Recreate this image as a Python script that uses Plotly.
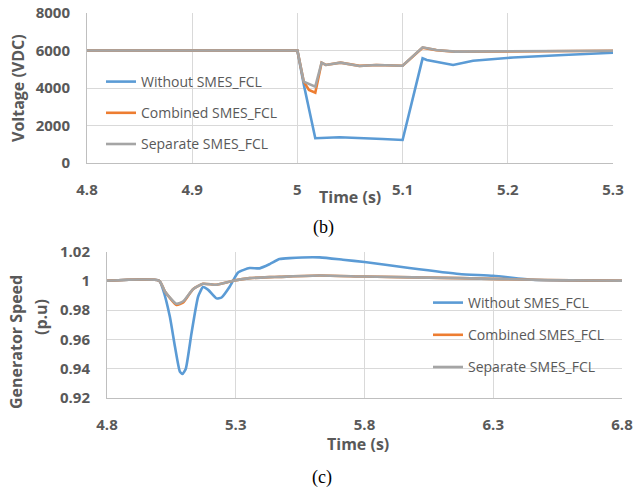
import plotly.graph_objects as go

# ---- (b) DC voltage ----
t_v_without = [4.8, 5.0, 5.006, 5.017, 5.04, 5.056, 5.081, 5.1, 5.119, 5.123, 5.132, 5.148, 5.167, 5.205, 5.253, 5.3]
v_without = [6000, 6000, 4200, 1320, 1370, 1350, 1280, 1230, 5580, 5490, 5400, 5230, 5450, 5630, 5760, 5880]

t_v_comb = [4.8, 5.0, 5.006, 5.011, 5.017, 5.023, 5.027, 5.041, 5.059, 5.075, 5.1, 5.119, 5.132, 5.15, 5.2, 5.25, 5.3]
v_comb = [6000, 6000, 4340, 3890, 3750, 5350, 5230, 5350, 5180, 5230, 5190, 6150, 6020, 5930, 5950, 5960, 5990]

t_v_sep = [4.8, 5.0, 5.006, 5.011, 5.017, 5.023, 5.027, 5.041, 5.059, 5.075, 5.1, 5.119, 5.132, 5.15, 5.2, 5.25, 5.3]
v_sep = [6000, 6000, 4340, 4210, 4070, 5350, 5230, 5350, 5170, 5230, 5190, 6170, 6030, 5940, 5950, 5960, 5990]

# ---- (c) generator speed ----
t_s_without = [4.8, 5.003, 5.018, 5.044, 5.064, 5.083, 5.093, 5.106, 5.128, 5.154, 5.173, 5.193, 5.225,
               5.245, 5.277, 5.309, 5.354, 5.393, 5.432, 5.47, 5.509, 5.626, 5.716, 5.8, 5.974, 6.168,
               6.3, 6.45, 6.6, 6.8]
s_without = [1.0, 1.0, 0.9938, 0.9756, 0.955, 0.938, 0.9364, 0.940, 0.964, 0.9893, 0.9957, 0.9938, 0.988,
             0.9886, 0.9961, 1.0057, 1.0087, 1.0085, 1.0114, 1.0148, 1.0155, 1.016, 1.0144, 1.0128, 1.0087,
             1.0046, 1.0034, 1.0007, 1.0002, 1.0]

t_s_comb = [4.8, 5.003, 5.025, 5.07, 5.096, 5.134, 5.173, 5.225, 5.29, 5.354, 5.432, 5.47, 5.626, 5.8, 6.17, 6.5, 6.8]
s_comb = [1.0, 1.0, 0.9927, 0.9835, 0.9852, 0.9943, 0.998, 0.9973, 1.0, 1.0018, 1.0025, 1.0027, 1.0036, 1.0029, 1.0018, 1.0005, 1.0]

t_s_sep = [4.8, 5.003, 5.025, 5.07, 5.096, 5.134, 5.173, 5.225, 5.29, 5.354, 5.432, 5.47, 5.626, 5.8, 6.17, 6.5, 6.8]
s_sep = [1.0, 1.0, 0.9927, 0.9843, 0.986, 0.9943, 0.998, 0.9973, 1.0, 1.0018, 1.0025, 1.0027, 1.0036, 1.0029, 1.0018, 1.0005, 1.0]

names = ["Without SMES_FCL", "Combined SMES_FCL", "Separate SMES_FCL"]
colors = ["#5B9BD5", "#ED7D31", "#A5A5A5"]

W, H = 637, 491
FONT = "Open Sans"
TXT = "#595959"
GRID = "#D9D9D9"

fig = go.Figure()

top = [(t_v_without, v_without), (t_v_comb, v_comb), (t_v_sep, v_sep)]
bot = [(t_s_without, s_without), (t_s_comb, s_comb), (t_s_sep, s_sep)]

for i, (x, y) in enumerate(top):
    fig.add_trace(go.Scatter(x=x, y=y, mode="lines", name=names[i], xaxis="x", yaxis="y",
                             line=dict(color=colors[i], width=2.6), legend="legend",
                             legendgroup="a%d" % i))
for i, (x, y) in enumerate(bot):
    fig.add_trace(go.Scatter(x=x, y=y, mode="lines", name=names[i], xaxis="x2", yaxis="y2",
                             line=dict(color=colors[i], width=2.6, shape="spline", smoothing=0.5),
                             legend="legend2", legendgroup="b%d" % i))

def px(x):
    return x / W

def py(y):
    return 1 - y / H

tickfont = dict(family=FONT, size=15, color=TXT, weight="bold")
common = dict(showgrid=True, gridcolor=GRID, gridwidth=1, showline=True, linecolor="#BFBFBF",
              linewidth=1, zeroline=False, ticks="outside", ticklen=13, tickcolor="rgba(0,0,0,0)",
              tickfont=tickfont, automargin=False, ticklabeloverflow="allow")

legfont = dict(family=FONT, size=14, color=TXT)
titlefont = dict(family=FONT, size=16, color=TXT, weight="bold")

fig.update_layout(
    width=W, height=H,
    margin=dict(l=0, r=0, t=0, b=0, autoexpand=False),
    paper_bgcolor="white", plot_bgcolor="white",
    xaxis=dict(domain=[px(87), px(613)], anchor="y", range=[4.8, 5.3], dtick=0.1, tick0=4.8, **common),
    yaxis=dict(domain=[py(163), py(13)], anchor="x", range=[0, 8000], dtick=2000, **common),
    xaxis2=dict(domain=[px(107), px(622)], anchor="y2", range=[4.8, 6.8], dtick=0.5, tick0=4.8, **common),
    yaxis2=dict(domain=[py(398), py(251.5)], anchor="x2", range=[0.92, 1.02], dtick=0.02,
                tickformat="~r", **common),
    showlegend=True,
    legend=dict(x=px(101), y=py(66), xanchor="left", yanchor="top", bgcolor="rgba(0,0,0,0)",
                font=legfont, traceorder="grouped", tracegroupgap=10, itemwidth=30),
    legend2=dict(x=px(428), y=py(287), xanchor="left", yanchor="top", bgcolor="rgba(0,0,0,0)",
                 font=legfont, traceorder="grouped", tracegroupgap=11, itemwidth=30),
)

ann = [
    dict(text="Voltage (VDC)", x=px(18), y=py(88), textangle=-90, font=titlefont),
    dict(text="Time (s)", x=px(350), y=py(197), font=titlefont),
    dict(text="(b)", x=px(323), y=py(227),
         font=dict(family="Liberation Serif", size=18, color="black")),
    dict(text="Generator Speed", x=px(16), y=py(342), textangle=-90, font=titlefont),
    dict(text="(p.u)", x=px(41), y=py(317), textangle=-90, font=titlefont),
    dict(text="Time (s)", x=px(358), y=py(444), font=titlefont),
    dict(text="(c)", x=px(322), y=py(477),
         font=dict(family="Liberation Serif", size=18, color="black")),
]
for a in ann:
    a.update(xref="paper", yref="paper", showarrow=False, xanchor="center", yanchor="middle")
fig.update_layout(annotations=ann)

fig.write_html("out.html", config={"displayModeBar": False},
               post_script="document.body.style.margin='0';")
